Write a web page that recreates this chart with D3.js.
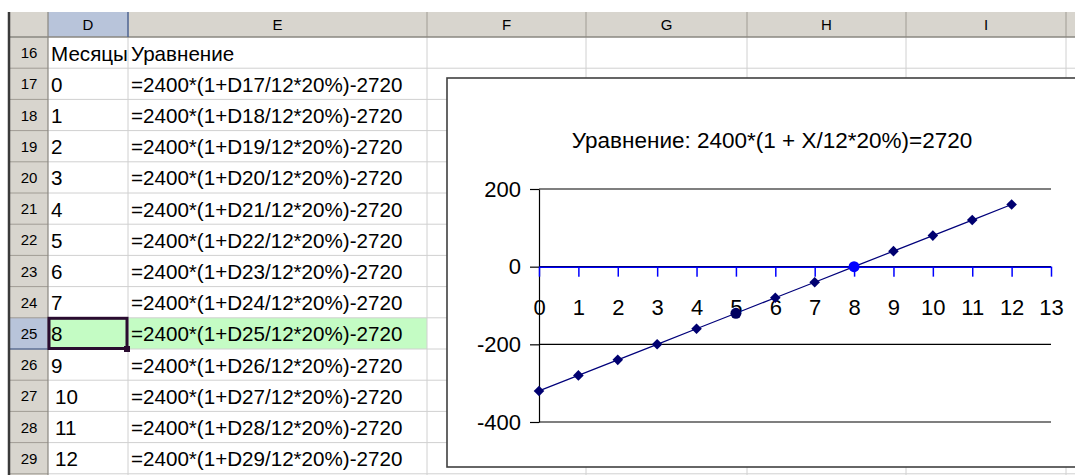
<!DOCTYPE html>
<html><head><meta charset="utf-8">
<script src="https://cdn.jsdelivr.net/npm/d3@7"></script>
<style>
body{margin:0;background:#fff;}
svg{display:block;font-family:"Liberation Sans",Arial,sans-serif;}
</style>
</head><body>
<svg id="c" width="1075" height="475"></svg>
<script>
// ---- data ----
const months = [0,1,2,3,4,5,6,7,8,9,10,11,12];
const values = [-320,-280,-240,-200,-160,-120,-80,-40,0,40,80,120,160];
const rowNumbers = [16,17,18,19,20,21,22,23,24,25,26,27,28,29];
const colLetters = ["D","E","F","G","H","I",""];
const headerTexts = ["Месяцы","Уравнение"];
const formulaRows = [17,18,19,20,21,22,23,24,25,26,27,28,29];
const yTicks = [-400,-200,0,200];
const xTicks = [0,1,2,3,4,5,6,7,8,9,10,11,12,13];
const chartTitle = "Уравнение: 2400*(1 + X/12*20%)=2720";
const selectedMonth = 8;
const hoverMonth = 5;
const activeRow = 25;

// ---- sheet layout ----
const svg = d3.select("#c");
const colEdges = [48,128,427,586,747,906,1066,1200];
const rowTop = 37, rowH = 31.2, headTop = 12;
const rowY = i => rowTop + i*rowH;

svg.append("rect").attr("width",1075).attr("height",475).attr("fill","#fff");

// header row
svg.append("rect").attr("x",10).attr("y",headTop).attr("width",1065).attr("height",rowTop-headTop).attr("fill","#d8d5ce");
svg.append("rect").attr("x",colEdges[0]).attr("y",headTop).attr("width",colEdges[1]-colEdges[0]).attr("height",rowTop-headTop).attr("fill","#b8c4da");
// row header column
svg.append("rect").attr("x",10).attr("y",rowTop).attr("width",38).attr("height",475-rowTop).attr("fill","#d8d5ce");
const ai = rowNumbers.indexOf(activeRow);
svg.append("rect").attr("x",10).attr("y",rowY(ai)).attr("width",38).attr("height",rowH).attr("fill","#b8c4da");

// green highlighted cells
svg.append("rect").attr("x",colEdges[0]).attr("y",rowY(ai)).attr("width",colEdges[2]-colEdges[0]).attr("height",rowH).attr("fill","#c4fcc4");

// cell gridlines
rowNumbers.forEach((r,i)=>{
  svg.append("line").attr("x1",48).attr("x2",1075).attr("y1",rowY(i+1)).attr("y2",rowY(i+1)).attr("stroke","#d0d0d0");
  svg.append("line").attr("x1",10).attr("x2",48).attr("y1",rowY(i+1)).attr("y2",rowY(i+1)).attr("stroke","#a09c94");
});
colEdges.slice(1).forEach(x=>{
  svg.append("line").attr("x1",x).attr("x2",x).attr("y1",rowTop).attr("y2",475).attr("stroke","#d0d0d0");
  svg.append("line").attr("x1",x).attr("x2",x).attr("y1",headTop).attr("y2",rowTop).attr("stroke","#a09c94");
});
svg.append("line").attr("x1",10).attr("x2",1075).attr("y1",rowTop).attr("y2",rowTop).attr("stroke","#8a8780").attr("stroke-width",1.5);
svg.append("line").attr("x1",48).attr("x2",48).attr("y1",headTop).attr("y2",475).attr("stroke","#8a8780").attr("stroke-width",1.2);
svg.append("line").attr("x1",128).attr("x2",128).attr("y1",headTop).attr("y2",rowTop).attr("stroke","#3c5a96").attr("stroke-width",1.2);
svg.append("line").attr("x1",10).attr("x2",48).attr("y1",rowY(ai+1)).attr("y2",rowY(ai+1)).attr("stroke","#3c5a96").attr("stroke-width",1.2);
svg.append("line").attr("x1",9).attr("x2",9).attr("y1",headTop).attr("y2",475).attr("stroke","#3a3a3a").attr("stroke-width",2.5);

// column letters
colLetters.forEach((c,i)=>{
  svg.append("text").attr("x",(colEdges[i]+colEdges[i+1])/2).attr("y",30).attr("text-anchor","middle")
    .attr("font-size",15).attr("fill","#000").text(c);
});
// row numbers
rowNumbers.forEach((r,i)=>{
  svg.append("text").attr("x",29).attr("y",rowY(i)+rowH/2+5.5).attr("text-anchor","middle")
    .attr("font-size",15).attr("fill","#000").text(r);
});
// header texts
const cellFont = 20.6;
svg.append("text").attr("x",51).attr("y",rowY(0)+rowH/2+8).attr("font-size",cellFont).text(headerTexts[0]);
svg.append("text").attr("x",131).attr("y",rowY(0)+rowH/2+8).attr("font-size",cellFont).text(headerTexts[1]);
// month values & formulas
months.forEach((m,i)=>{
  svg.append("text").attr("x", m>=10 ? 55 : 51).attr("y",rowY(i+1)+rowH/2+8).attr("font-size",cellFont).text(m);
  svg.append("text").attr("x",131).attr("y",rowY(i+1)+rowH/2+8).attr("font-size",cellFont)
    .text(`=2400*(1+D${formulaRows[i]}/12*20%)-2720`);
});
// active cell border
svg.append("rect").attr("x",49).attr("y",rowY(ai)+0.5).attr("width",78).attr("height",rowH-1)
  .attr("fill","none").attr("stroke","#2a0c30").attr("stroke-width",3);
svg.append("rect").attr("x",124).attr("y",rowY(ai)+rowH-3).attr("width",6).attr("height",6).attr("fill","#2a0c30");

// ---- chart ----
svg.append("rect").attr("x",447).attr("y",78).attr("width",700).attr("height",389)
  .attr("fill","#fff").attr("stroke","#404040").attr("stroke-width",1.6);

const x = d3.scaleLinear().domain([0,13]).range([539,1051]);
const y = d3.scaleLinear().domain([-400,200]).range([422,189]);

svg.append("text").attr("x",772).attr("y",148).attr("text-anchor","middle").attr("font-size",22.5).text(chartTitle);

// gridlines
svg.append("g").selectAll("line").data(yTicks).join("line")
  .attr("x1",x(0)).attr("x2",x(13)).attr("y1",d=>y(d)).attr("y2",d=>y(d)).attr("stroke","#000").attr("stroke-width",1.2);

// y axis
const yAx = svg.append("g").attr("transform",`translate(${x(0)},0)`)
  .call(d3.axisLeft(y).tickValues(yTicks).tickSize(9).tickSizeOuter(0).tickPadding(9).tickFormat(d=>String(d)));
yAx.select(".domain").attr("stroke","#000").attr("stroke-width",1.2);
yAx.selectAll(".tick line").attr("stroke","#000").attr("stroke-width",1.2);
yAx.selectAll("text").attr("font-size",22).attr("font-family","Liberation Sans, Arial, sans-serif").attr("fill","#000");

// x axis (at y=0)
const xAx = svg.append("g").attr("transform",`translate(0,${y(0)})`)
  .call(d3.axisBottom(x).tickValues(xTicks).tickSize(10).tickSizeOuter(0).tickPadding(23).tickFormat(d=>String(d)));
xAx.select(".domain").attr("stroke","#0000ff").attr("stroke-width",1.5);
xAx.selectAll(".tick line").attr("stroke","#0000ff").attr("stroke-width",1.5);
xAx.selectAll("text").attr("font-size",22).attr("font-family","Liberation Sans, Arial, sans-serif").attr("fill","#000");

// series
const line = d3.line().x((d,i)=>x(months[i])).y(d=>y(d));
svg.append("path").datum(values).attr("d",line).attr("fill","none").attr("stroke","#00007a").attr("stroke-width",1.2);
const pts = months.map((m,i)=>({m, v: values[i]}));
svg.append("g").selectAll("path").data(pts.filter(p=>p.m!==selectedMonth && p.m!==hoverMonth)).join("path")
  .attr("d",d3.symbol(d3.symbolSquare,56))
  .attr("transform",p=>`translate(${x(p.m)},${y(p.v)}) rotate(45)`)
  .attr("fill","#000070");
const hi = months.indexOf(hoverMonth), si = months.indexOf(selectedMonth);
svg.append("circle").attr("cx",x(months[hi])).attr("cy",y(values[hi])).attr("r",5.5).attr("fill","#000060");
svg.append("circle").attr("cx",x(months[si])).attr("cy",y(values[si])).attr("r",5.5).attr("fill","#0000ff");
</script>
</body></html>
